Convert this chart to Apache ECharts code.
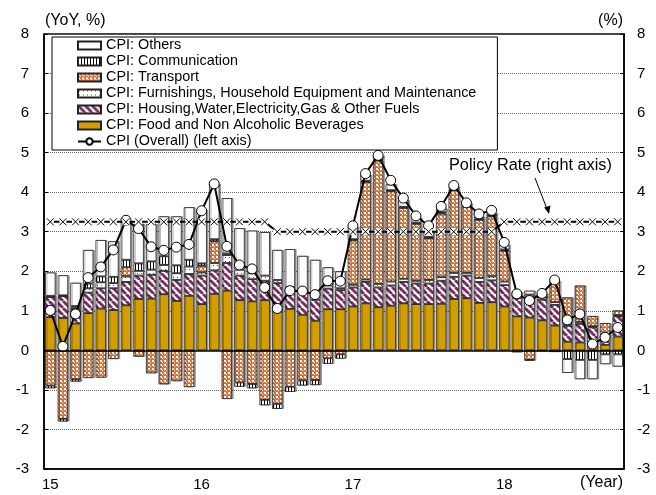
<!DOCTYPE html>
<html><head><meta charset="utf-8">
<script src="https://cdn.jsdelivr.net/npm/echarts@6/dist/echarts.min.js"></script>
<style>html,body{margin:0;padding:0;background:#fff}#c{width:656px;height:495px}</style>
</head><body><div id="c"></div>
<script>
const months = ['2015-01','2015-02','2015-03','2015-04','2015-05','2015-06','2015-07','2015-08','2015-09','2015-10','2015-11','2015-12',
'2016-01','2016-02','2016-03','2016-04','2016-05','2016-06','2016-07','2016-08','2016-09','2016-10','2016-11','2016-12',
'2017-01','2017-02','2017-03','2017-04','2017-05','2017-06','2017-07','2017-08','2017-09','2017-10','2017-11','2017-12',
'2018-01','2018-02','2018-03','2018-04','2018-05','2018-06','2018-07','2018-08','2018-09','2018-10'];
const yearLabels = {'2015-01':'15','2016-01':'16','2017-01':'17','2018-01':'18'};
const yTicks = [-3,-2,-1,0,1,2,3,4,5,6,7,8];

const food = [0.84,0.82,0.68,0.94,1.06,1.02,1.14,1.30,1.31,1.42,1.25,1.38,
1.17,1.43,1.51,1.27,1.24,1.27,0.98,1.05,0.90,0.75,1.04,1.04,
1.11,1.19,1.09,1.13,1.19,1.17,1.17,1.18,1.30,1.32,1.20,1.22,
1.11,0.86,0.83,0.76,0.63,0.22,0.20,0.12,0.14,0.35];
const housing = [0.51,0.55,0.39,0.52,0.51,0.55,0.59,0.59,0.60,0.59,0.53,0.55,
0.72,0.59,0.70,0.62,0.56,0.49,0.72,0.50,0.55,0.53,0.52,0.48,
0.48,0.54,0.50,0.51,0.54,0.52,0.52,0.58,0.56,0.57,0.53,0.55,
0.54,0.46,0.53,0.52,0.52,0.40,0.47,0.46,0.25,0.51];
const furnishings = [0.03,0.02,0.05,0.11,0.15,0.13,0.14,0.12,0.13,0.15,0.17,0.19,
0.08,0.19,0.20,0.15,0.15,0.13,0.08,0.05,0.05,0.07,0.08,0.05,
0.07,0.06,0.09,0.10,0.08,0.07,0.09,0.09,0.10,0.07,0.10,0.10,
0.09,0.05,0.05,0.06,0.07,0.05,0.05,0.03,0.03,0.03];
const transport = [-0.89,-1.73,-0.73,-0.70,-0.69,-0.22,0.23,-0.16,-0.58,-0.86,-0.78,-0.93,
0.17,0.55,-1.23,-0.81,-0.85,-1.25,-1.35,-0.92,-0.76,-0.75,-0.20,-0.10,
1.12,2.47,3.12,2.28,1.79,1.44,1.06,1.61,2.10,1.68,1.47,1.52,
0.78,0,-0.24,0,0.53,0.67,0.92,0.26,0.27,0.12];
const communication = [-0.07,-0.07,-0.06,0.12,0.15,0.16,0.19,0.19,0.21,0.22,0.20,0.17,
0.06,0.05,0.04,-0.11,-0.11,-0.14,-0.13,-0.13,-0.13,-0.13,-0.14,-0.11,
0.03,0.03,0.03,0.03,0.03,0.03,0.03,0.03,0.03,0.03,0.03,0.03,
0.03,-0.05,-0.02,-0.02,-0.03,-0.22,-0.24,-0.24,-0.10,-0.10];
const others = [0.59,0.51,0.59,0.85,0.92,0.90,0.97,1.00,0.95,1.01,1.24,1.33,
1.35,1.40,1.40,1.05,1.08,1.10,0.76,0.96,0.89,0.94,0.46,0.43,
0.31,0.15,0.10,0.15,0.17,0.12,0.15,0.10,0.05,0.05,0.05,0.05,
0.12,0.10,0.10,0.10,0,-0.35,-0.49,-0.49,-0.25,-0.31];
const cpi = [1.01,0.10,0.92,1.84,2.11,2.54,3.29,3.08,2.62,2.53,2.61,2.68,
3.53,4.21,2.63,2.16,2.06,1.59,1.06,1.51,1.50,1.41,1.76,1.75,
3.15,4.47,4.93,4.30,3.85,3.40,3.15,3.64,4.17,3.73,3.45,3.54,
2.73,1.43,1.26,1.44,1.78,0.77,0.92,0.16,0.33,0.58];
const policyRate = [3.25,3.25,3.25,3.25,3.25,3.25,3.25,3.25,3.25,3.25,3.25,3.25,
3.25,3.25,3.25,3.25,3.25,3.25,3.00,3.00,3.00,3.00,3.00,3.00,
3.00,3.00,3.00,3.00,3.00,3.00,3.00,3.00,3.00,3.00,3.00,3.00,
3.25,3.25,3.25,3.25,3.25,3.25,3.25,3.25,3.25,3.25];

const names = {
  others:'CPI: Others', comm:'CPI: Communication', transport:'CPI: Transport',
  furn:'CPI: Furnishings, Household Equipment and Maintenance',
  housing:'CPI: Housing,Water,Electricity,Gas & Other Fuels',
  food:'CPI: Food and Non Alcoholic Beverages', cpi:'CPI (Overall) (left axis)'
};

function pat(w,h,draw){const c=document.createElement('canvas');c.width=w;c.height=h;const g=c.getContext('2d');draw(g);return {image:c,repeat:'repeat'};}
const orange = pat(4,4,g=>{g.fillStyle='#E8702A';g.fillRect(0,0,4,4);g.fillStyle='#fff';g.fillRect(0,0,2,2);g.fillRect(2,2,1,1);});
const stripes = pat(7,7,g=>{g.fillStyle='#fff';g.fillRect(0,0,7,7);g.strokeStyle='#7B2D63';g.lineWidth=2.8;
  for(let k=-7;k<=7;k+=7){g.beginPath();g.moveTo(k,0);g.lineTo(k+7,7);g.stroke();}});
const dots = pat(4,4,g=>{g.fillStyle='#fff';g.fillRect(0,0,4,4);g.fillStyle='#555';g.fillRect(1,1,1,1);});
const vlines = pat(3,3,g=>{g.fillStyle='#fff';g.fillRect(0,0,3,3);g.fillStyle='#000';g.fillRect(0,0,1,3);});

const FONT = '"Liberation Sans", Arial, sans-serif';
function bar(name,data,color){
  return {name,type:'bar',stack:'a',data,barCategoryGap:'17%',
    itemStyle:{color,borderColor:'#222',borderWidth:0.8,shadowColor:'rgba(0,0,0,0.35)',shadowOffsetX:1.5,shadowBlur:0},
    emphasis:{disabled:true}};
}
const series = [
  Object.assign(bar(names.food,food,'#D39E00'),{markLine:{silent:true,symbol:'none',label:{show:false},lineStyle:{color:'#000',type:'solid',width:1.5},data:[{yAxis:0}],z:10}}),
  bar(names.housing,housing,stripes),
  bar(names.furn,furnishings,dots),
  bar(names.transport,transport,orange),
  bar(names.comm,communication,vlines),
  bar(names.others,others,'#fff'),
  {name:names.cpi,type:'line',data:cpi,z:5,symbol:'circle',symbolSize:10,showAllSymbol:true,
   lineStyle:{color:'#000',width:2},itemStyle:{color:'#fff',borderColor:'#000',borderWidth:1}},
  {name:'Policy Rate',type:'line',yAxisIndex:1,data:policyRate,z:6,symbol:'rect',symbolSize:7,showAllSymbol:true,
   lineStyle:{color:'#000',width:2},itemStyle:{color:'#fff',borderWidth:0}},
  {name:'Policy Rate X',type:'line',yAxisIndex:1,data:policyRate,z:7,symbol:'path://M0,0L10,10M10,0L0,10',symbolSize:7,showAllSymbol:true,
   lineStyle:{opacity:0},itemStyle:{color:'none',borderColor:'#000',borderWidth:1}}
];

const yAxisBase = {type:'value',min:-3,max:8,interval:1,
  axisLine:{show:true,lineStyle:{color:'#000',width:1.5}},
  axisTick:{show:true,inside:true,length:4,lineStyle:{color:'#000'}},
  axisLabel:{color:'#000',fontSize:15,fontFamily:FONT}};

const chart = echarts.init(document.getElementById('c'),null,{renderer:'canvas'});
chart.setOption({
  animation:false,
  backgroundColor:'#fff',
  textStyle:{fontFamily:FONT},
  grid:{left:44,right:32,top:34,bottom:26,show:true,borderColor:'#000',borderWidth:1.5,backgroundColor:'transparent'},
  xAxis:{type:'category',data:months,
    axisLine:{onZero:false,lineStyle:{color:'#000',width:1.5}},axisTick:{show:false},
    axisLabel:{color:'#000',fontSize:15,fontFamily:FONT,margin:8,interval:(i,v)=>!!yearLabels[v],formatter:v=>yearLabels[v]||''}},
  yAxis:[
    Object.assign({},yAxisBase,{position:'left',axisLabel:Object.assign({},yAxisBase.axisLabel,{margin:15}),
      splitLine:{show:true,lineStyle:{color:'#666',type:'dotted',width:1}}}),
    Object.assign({},yAxisBase,{position:'right',axisLabel:Object.assign({},yAxisBase.axisLabel,{margin:13}),splitLine:{show:false}})
  ],
  legend:{orient:'vertical',left:52,top:37,z:20,
    data:[{name:names.others,icon:'rect'},{name:names.comm,icon:'rect'},{name:names.transport,icon:'rect'},
          {name:names.furn,icon:'rect'},{name:names.housing,icon:'rect'},{name:names.food,icon:'rect'},{name:names.cpi}],
    backgroundColor:'#fff',borderColor:'#000',borderWidth:1,padding:[1.5,21,1.5,25],
    itemWidth:23,itemHeight:8,itemGap:2.0,
    textStyle:{color:'#000',fontSize:14.4,fontFamily:FONT},selectedMode:false},
  graphic:[
    {type:'text',left:45,top:13,style:{text:'(YoY, %)',font:'16px '+FONT,fill:'#000'}},
    {type:'text',right:33,top:13,style:{text:'(%)',font:'16px '+FONT,fill:'#000'}},
    {type:'text',right:33,top:475,style:{text:'(Year)',font:'16px '+FONT,fill:'#000'}},
    {type:'text',left:449,top:158,z:30,style:{text:'Policy Rate (right axis)',font:'16.3px '+FONT,fill:'#000'}},
    {type:'line',z:30,shape:{x1:535,y1:178,x2:547,y2:209},style:{stroke:'#000',lineWidth:1}},
    {type:'polygon',z:30,shape:{points:[[549,214],[544.2,207.5],[550.5,205.5]]},style:{fill:'#000'}}
  ],
  series
});
</script></body></html>
